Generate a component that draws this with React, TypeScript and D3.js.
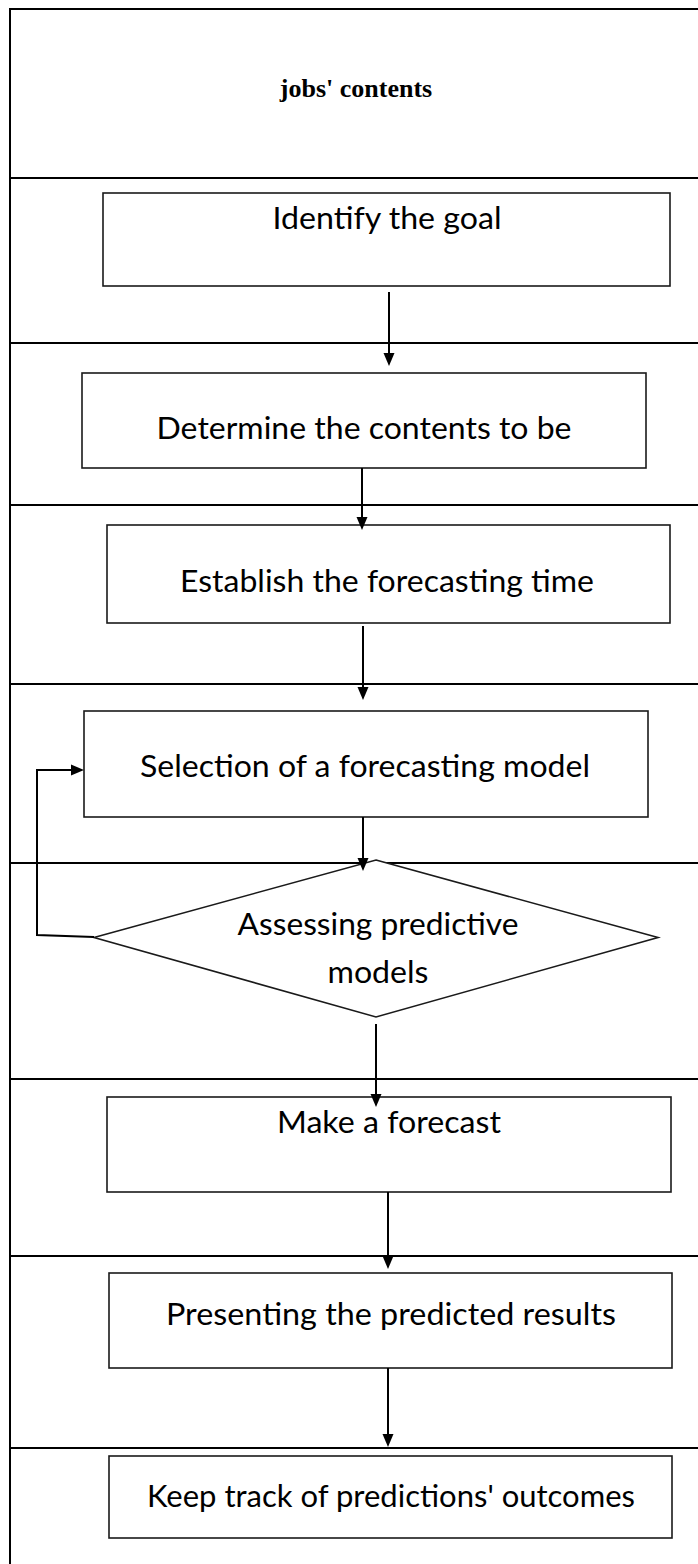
import React, {JSX} from "react";
import * as d3 from "d3";

// flow content
const headerTitle = "jobs' contents";
const stepLabels: string[][] = [
    ["Identify the goal"],
    ["Determine the contents to be"],
    ["Establish the forecasting time"],
    ["Selection of a forecasting model"],
    ["Assessing predictive", "models"],
    ["Make a forecast"],
    ["Presenting the predicted results"],
    ["Keep track of predictions' outcomes"],
];
const stepKinds = ["box", "box", "box", "box", "diamond", "box", "box", "box"];

// layout (pixels)
const rowLines = [178, 343, 505, 684, 863, 1079, 1256, 1448];
const shapes = [
    {x0: 103, x1: 670, y0: 193, y1: 286},
    {x0: 82, x1: 646, y0: 373, y1: 468},
    {x0: 107, x1: 670, y0: 525, y1: 623},
    {x0: 84, x1: 648, y0: 711, y1: 817},
    {x0: 94, x1: 658, y0: 860, y1: 1017},
    {x0: 107, x1: 671, y0: 1097, y1: 1192},
    {x0: 109, x1: 672, y0: 1273, y1: 1368},
    {x0: 109, x1: 672, y0: 1456, y1: 1538},
];
const textPos = [
    {cx: 387, ys: [229], w: [229]},
    {cx: 364, ys: [439], w: [415]},
    {cx: 387, ys: [592], w: [414]},
    {cx: 365, ys: [777], w: [450]},
    {cx: 378, ys: [935, 983], w: [281, 101]},
    {cx: 389, ys: [1133], w: [224]},
    {cx: 391, ys: [1325], w: [450]},
    {cx: 391, ys: [1507], w: [488]},
];
const arrows = [
    {x: 389, y0: 292, y1: 366},
    {x: 362, y0: 468, y1: 530},
    {x: 363, y0: 626, y1: 700},
    {x: 363, y0: 817, y1: 871},
    {x: 376, y0: 1024, y1: 1107},
    {x: 388, y0: 1192, y1: 1269},
    {x: 388, y0: 1368, y1: 1447},
];
const loopPath: [number, number][] = [[94, 937], [37, 935], [37, 770], [74, 770]];

const W = 698
const H = 1564
const left = 10
const top = 9

const line = d3.line<[number, number]>()

const Head = ({x, y, dir}: {x: number, y: number, dir: "down" | "right"}) => {
    const pts: [number, number][] = dir === "down"
        ? [[x - 5.5, y - 13], [x + 5.5, y - 13], [x, y]]
        : [[x - 13, y - 5.5], [x - 13, y + 5.5], [x, y]]
    return <path d={line(pts) + "Z"} fill="#000"/>
}

export default function App(): JSX.Element {
    return (
        <svg width={W} height={H} style={{position: "absolute", left: 0, top: 0, background: "#fff"}}>
            <rect x={0} y={0} width={W} height={H} fill="#fff"/>
            {/* table frame */}
            <g stroke="#000" strokeWidth={2} fill="none">
                <path d={line([[left, H], [left, top], [W, top]]) as string}/>
                {rowLines.map((y, i) => (
                    <path key={i} d={line([[left, y], [W, y]]) as string}/>
                ))}
            </g>
            <text x={356} y={97} textAnchor="middle" fontFamily="'Liberation Serif', 'Times New Roman', serif"
                  fontWeight="bold" fontSize={26}>{headerTitle}</text>

            {/* shapes */}
            <g stroke="#1a1a1a" strokeWidth={1.6} fill="#fff">
                {shapes.map((s, i) => stepKinds[i] === "diamond" ? (
                    <path key={i} d={line([
                        [(s.x0 + s.x1) / 2 - 0, s.y0], [s.x1, (s.y0 + s.y1) / 2 - 1],
                        [(s.x0 + s.x1) / 2, s.y1], [s.x0, (s.y0 + s.y1) / 2 - 1]
                    ]) + "Z"}/>
                ) : (
                    <rect key={i} x={s.x0} y={s.y0} width={s.x1 - s.x0} height={s.y1 - s.y0}/>
                ))}
            </g>

            {/* arrows */}
            <g stroke="#000" strokeWidth={2} fill="none">
                {arrows.map((a, i) => (
                    <path key={i} d={line([[a.x, a.y0], [a.x, a.y1 - 10]]) as string}/>
                ))}
                <path d={line(loopPath) as string}/>
            </g>
            {arrows.map((a, i) => <Head key={i} x={a.x} y={a.y1} dir="down"/>)}
            <Head x={84} y={770} dir="right"/>

            {/* labels */}
            <g fontFamily="Lato, 'Open Sans', sans-serif" fontSize={30} fill="#000" textAnchor="middle">
                {stepLabels.map((lines, i) => lines.map((t, j) => (
                    <text key={i + "-" + j} x={textPos[i].cx} y={textPos[i].ys[j]}
                          textLength={textPos[i].w[j]} lengthAdjust="spacingAndGlyphs">{t}</text>
                )))}
            </g>
        </svg>
    )
}
